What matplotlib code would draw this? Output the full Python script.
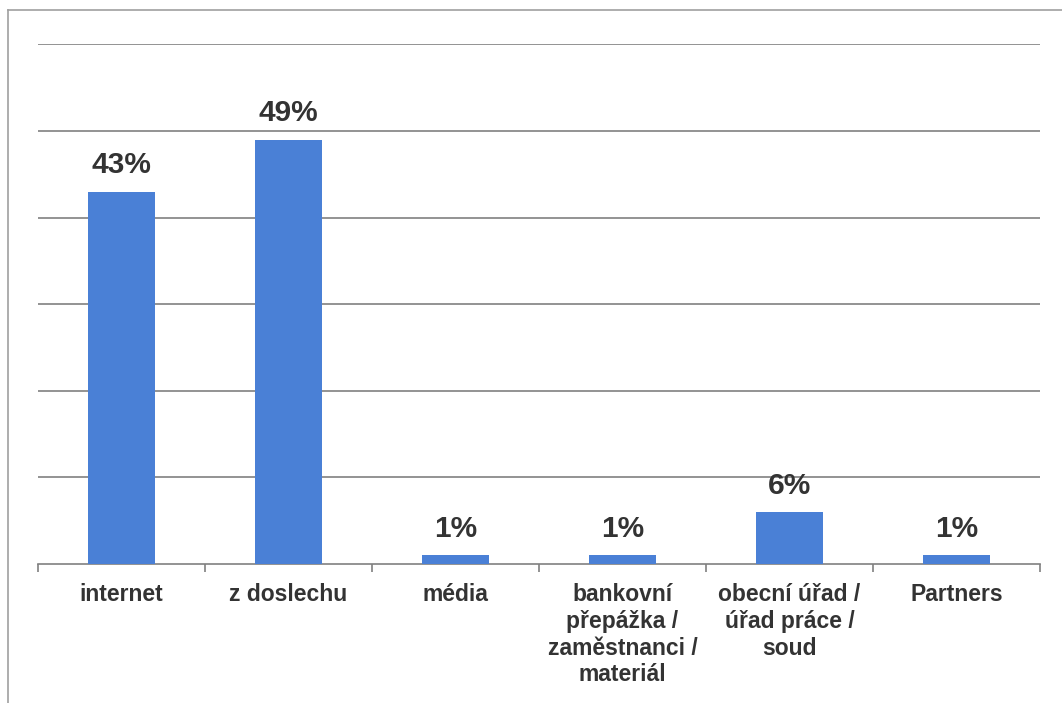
import matplotlib.pyplot as plt
from matplotlib.lines import Line2D

# data
categories = ["internet", "z doslechu", "média",
              "bankovní\npřepážka /\nzaměstnanci /\nmateriál",
              "obecní úřad /\núřad práce /\nsoud", "Partners"]
values = [43, 49, 1, 1, 6, 1]
labels = ["43%", "49%", "1%", "1%", "6%", "1%"]
grid_ticks = [10, 20, 30, 40, 50, 60]

plt.rcParams['font.family'] = ['Liberation Sans', 'DejaVu Sans']

fig = plt.figure(figsize=(10.62, 7.03), dpi=100)
ax = fig.add_axes([0.0358, 0.1977, 0.9435, 0.7393])

x = list(range(len(categories)))
ax.bar(x, values, width=0.4, color='#4a80d6', zorder=3)

for xi, v, lab in zip(x, values, labels):
    ax.annotate(lab, (xi, v), xytext=(0, 9), textcoords='offset points',
                ha='center', va='bottom', fontsize=21.5, fontweight='bold',
                color='#333333')

ax.set_xlim(-0.5, len(categories) - 0.5)
ax.set_ylim(0, 60)
ax.set_yticks(grid_ticks)
ax.yaxis.grid(True, color='#808080', linewidth=1.2, zorder=0)
ax.tick_params(axis='y', left=False, labelleft=False)

ax.set_xticks([i + 0.5 for i in range(-1, len(categories))], minor=True)
ax.set_xticks(x)
ax.set_xticklabels(categories, fontsize=16.5, fontweight='bold',
                   color='#333333', linespacing=1.2, va='top')
ax.tick_params(axis='x', which='major', length=0, pad=14)
ax.tick_params(axis='x', which='minor', length=6, width=1.2, color='#808080')

for side in ['top', 'right', 'left']:
    ax.spines[side].set_visible(False)
ax.spines['bottom'].set_color('#808080')
ax.spines['bottom'].set_linewidth(1.2)

# border of the scanned chart area
fig.add_artist(Line2D([0.0075, 0.0075], [0.0, 0.986], color='#a0a0a0',
                      linewidth=1.2, transform=fig.transFigure))
fig.add_artist(Line2D([0.0075, 1.0], [0.986, 0.986], color='#a0a0a0',
                      linewidth=1.2, transform=fig.transFigure))

fig.savefig('out.png', dpi=100, facecolor='white')
